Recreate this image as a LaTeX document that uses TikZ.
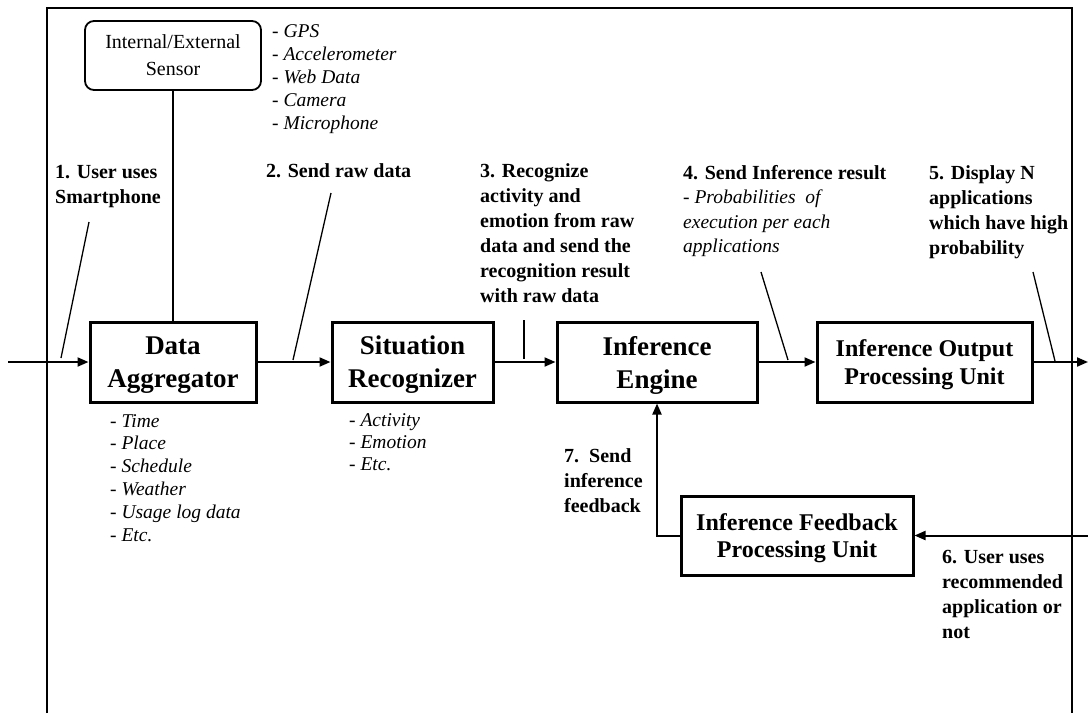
\documentclass[tikz,border=0pt]{standalone}
\usepackage{fontspec}
\setmainfont{Liberation Serif}
\usetikzlibrary{arrows.meta}
\begin{document}
\begin{tikzpicture}[x=1pt,y=-1pt,
  unitbox/.style={draw,line width=3pt,rectangle,inner sep=0pt,align=center,
    text depth=0pt,font=\bfseries\fontsize{27}{33}\selectfont},
  unitboxsmall/.style={unitbox,font=\bfseries\fontsize{24}{27.5}\selectfont},
  sensorbox/.style={draw,line width=1.8pt,rounded corners=9pt,inner sep=0pt,
    align=center,font=\fontsize{20}{27}\selectfont},
  flow/.style={line width=2pt,-{Triangle[length=11pt,width=9pt]}},
  plainline/.style={line width=2pt},
  leader/.style={line width=1.3pt},
  steplabel/.style={anchor=north west,inner sep=0pt,align=left,
    font=\bfseries\fontsize{20}{25}\selectfont},
  itemlist/.style={anchor=north west,inner sep=0pt,align=left,
    font=\itshape\fontsize{19.5}{23}\selectfont}]
\useasboundingbox (0,0) rectangle (1088,713);

% outer frame, open at the bottom
\draw[line width=2pt] (47,713) -- (47,8) -- (1072,8) -- (1072,713);

% processing units
\node[sensorbox,minimum width=176pt,minimum height=69pt] (sensor) at (173,55.5)
  {Internal/External\\Sensor};
\node[unitbox,minimum width=166pt,minimum height=80pt] (da) at (173,362)
  {Data\\Aggregator};
\node[unitbox,minimum width=161pt,minimum height=80pt] (sr) at (412.5,362)
  {Situation\\Recognizer};
\node[unitbox,minimum width=200pt,minimum height=80pt] (ie) at (657,362)
  {Inference\\Engine};
\node[unitboxsmall,minimum width=215pt,minimum height=80pt] (iopu) at (924.5,362)
  {Inference Output\\Processing Unit};
\node[unitboxsmall,minimum width=232pt,minimum height=79pt,
  font=\bfseries\fontsize{24}{26.5}\selectfont] (ifpu) at (797,535.5)
  {Inference Feedback\\Processing Unit};

% free ends of the flow
\coordinate (in) at (8,362);
\coordinate (out) at (1088,362);
\coordinate (back) at (1088,535.5);

% connectors
\draw[plainline] (sensor.south) -- (da.north);
\draw[flow] (in) -- (da.west);
\draw[flow] (da.east) -- (sr.west);
\draw[flow] (sr.east) -- (ie.west);
\draw[flow] (ie.east) -- (iopu.west);
\draw[flow] (iopu.east) -- (out);
\draw[flow] (back) -- (ifpu.east);
\draw[flow] (ifpu.west) -| (ie.south);

% leader lines from the step labels to the flow
\coordinate (l1a) at (89,222);   \coordinate (l1b) at (61,358);
\coordinate (l2a) at (331,193);  \coordinate (l2b) at (293,360);
\coordinate (l3a) at (524,320);  \coordinate (l3b) at (524,359);
\coordinate (l4a) at (761,272);  \coordinate (l4b) at (788,360);
\coordinate (l5a) at (1033,272); \coordinate (l5b) at (1055,361);
\draw[leader] (l1a) -- (l1b);
\draw[leader] (l2a) -- (l2b);
\draw[leader] (l3a) -- (l3b);
\draw[leader] (l4a) -- (l4b);
\draw[leader] (l5a) -- (l5b);

% step labels
\node[steplabel] (s1) at (55,165) {1. User uses\\Smartphone};
\node[steplabel] (s2) at (266,163) {2. Send raw data};
\node[steplabel] (s3) at (480,163) {3. Recognize\\activity and\\emotion from raw\\data and send the\\recognition result\\with raw data};
\node[steplabel,font=\bfseries\fontsize{20}{24.5}\selectfont] (s4) at (683,165)
  {4. Send Inference result\\
   {\mdseries\itshape\fontsize{19.5}{24.5}\selectfont - Probabilities\ \ of}\\
   {\mdseries\itshape\fontsize{19.5}{24.5}\selectfont execution per each}\\
   {\mdseries\itshape\fontsize{19.5}{24.5}\selectfont applications}};
\node[steplabel] (s5) at (929,165) {5. Display N\\applications\\which have high\\probability};
\node[steplabel] (s6) at (942,550) {6. User uses\\recommended\\application or\\not};
\node[steplabel] (s7) at (564,448) {7.\enspace Send\\inference\\feedback};

% item lists
\node[itemlist] (sensoritems) at (272,24)
  {- GPS\\- Accelerometer\\- Web Data\\- Camera\\- Microphone};
\node[itemlist,font=\itshape\fontsize{19.5}{22.8}\selectfont] (daitems) at (110,414)
  {- Time\\- Place\\- Schedule\\- Weather\\- Usage log data\\- Etc.};
\node[itemlist,font=\itshape\fontsize{19.5}{22}\selectfont] (sritems) at (349,413)
  {- Activity\\- Emotion\\- Etc.};
\end{tikzpicture}
\end{document}
